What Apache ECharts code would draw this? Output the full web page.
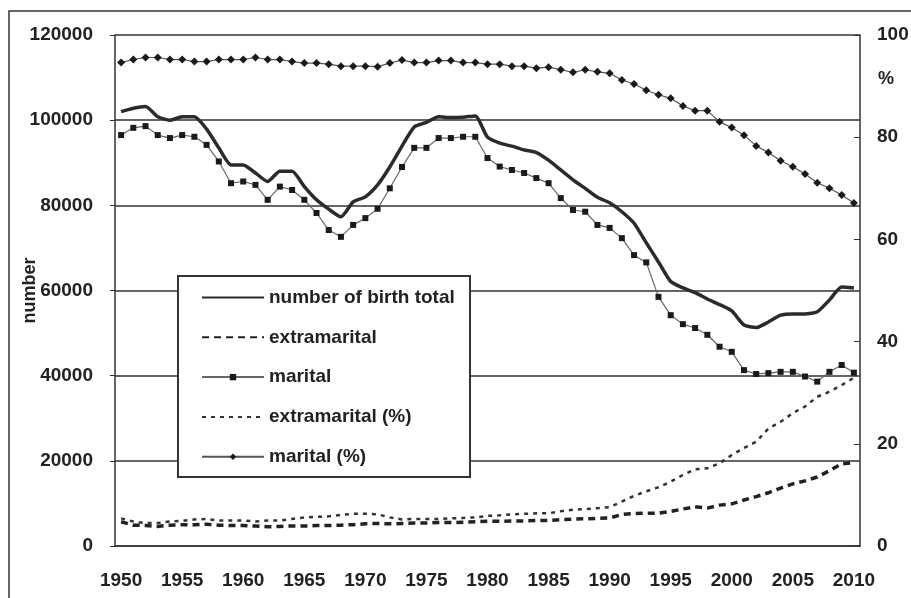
<!DOCTYPE html>
<html>
<head>
<meta charset="utf-8">
<script src="https://cdn.jsdelivr.net/npm/echarts@6/dist/echarts.min.js"></script>
<style>
html,body{margin:0;padding:0;background:#fff;}
#main{width:911px;height:598px;}
</style>
</head>
<body>
<div id="main"></div>
<script>
// years 1950..2010
var years = [];
for (var y = 1950; y <= 2010; y++) years.push(String(y));

var totalBirths = [102000,102800,103200,100800,100000,100800,100800,97900,93500,89500,
    89500,87600,85600,88000,88000,84400,81300,79100,77300,80800,
    82000,84800,89000,93900,98400,99500,100800,100600,100700,101000,
    96000,94600,93900,93000,92400,90600,88300,86000,84000,81900,
    80600,78500,75800,71200,66700,62100,60600,59500,58000,56700,
    55200,51900,51300,52600,54200,54500,54500,55000,57800,60800,
    60600];

var extramarital = [5700,4900,4800,4600,4900,5000,5000,5100,4900,4800,
    4800,4700,4500,4600,4700,4700,4800,4800,4900,5000,
    5200,5300,5200,5300,5400,5400,5500,5500,5600,5700,
    5800,5800,5900,5900,6000,6000,6200,6300,6400,6500,
    6600,7400,7600,7700,7700,8100,8700,9200,8900,9600,
    9900,10800,11600,12500,13600,14600,15300,16200,17700,19300,
    19600];

var marital = [96500,98200,98600,96500,95800,96500,96100,94200,90300,85200,
    85600,84800,81300,84400,83600,81300,78200,74200,72600,75400,
    77000,79200,84000,89000,93500,93500,95800,95800,96100,96100,
    91100,89100,88300,87600,86400,85200,81700,78900,78500,75400,
    74700,72300,68300,66600,58500,54200,52100,51200,49600,46800,
    45600,41300,40400,40600,40900,40900,39800,38600,40900,42500,
    40700];

var extramaritalPct = [5.4,4.8,4.5,4.5,4.8,4.9,5.2,5.3,5.0,5.0,
    5.0,4.8,5.0,5.0,5.3,5.6,5.7,5.8,6.1,6.3,
    6.3,6.2,5.6,5.2,5.3,5.3,5.3,5.4,5.5,5.6,
    5.9,6.0,6.2,6.3,6.4,6.4,6.8,7.1,7.2,7.4,
    7.6,8.7,9.8,10.7,11.5,12.6,13.9,15.0,15.2,16.2,
    17.8,19.2,20.4,23.0,24.3,26.0,27.3,29.2,30.2,31.5,
    32.9];

var maritalPct = [94.6,95.2,95.6,95.6,95.2,95.2,94.8,94.8,95.2,95.2,
    95.2,95.6,95.2,95.2,94.8,94.5,94.5,94.3,93.9,93.9,
    93.9,93.8,94.5,95.1,94.6,94.6,95.0,95.0,94.6,94.6,
    94.3,94.3,93.9,93.9,93.5,93.7,93.2,92.7,93.2,92.8,
    92.5,91.2,90.4,89.2,88.3,87.6,86.1,85.2,85.2,83.0,
    81.9,80.4,78.3,77.0,75.4,74.2,72.8,71.1,70.0,68.7,
    67.1];

var leftTicks = [0, 20000, 40000, 60000, 80000, 100000, 120000];
var rightTicks = [0, 20, 40, 60, 80, 100];

var ink = '#222';
var labelFont = {color: ink, fontFamily: 'Liberation Sans', fontWeight: 'bold', fontSize: 19};
var plain = function (v) { return String(v); };
var noMark = {opacity: 0};

var myChart = echarts.init(document.getElementById('main'));
var option = {
    animation: false,
    backgroundColor: '#fff',
    grid: {left: 115, right: 51, top: 35, bottom: 52, outerBoundsMode: 'none', containLabel: false},
    graphic: [
        {type: 'rect', shape: {x: 9, y: 11, width: 1000, height: 700},
            style: {fill: 'none', stroke: '#333', lineWidth: 1.5}, z: 0},
        // legend frame, white so the grid lines stop at its edge
        {type: 'rect', shape: {x: 178, y: 276, width: 292, height: 201},
            style: {fill: '#fff', stroke: '#333', lineWidth: 2}, z: 50},
        {type: 'text', left: 878, top: 70,
            style: {text: '%', fill: ink, font: 'bold 18px "Liberation Sans"'}, z: 50}
    ],
    legend: {
        orient: 'vertical',
        left: 196,
        top: 283,
        z: 60,
        itemWidth: 62,
        itemHeight: 8,
        itemGap: 20.8,
        textStyle: {color: ink, fontFamily: 'Liberation Sans', fontWeight: 'bold', fontSize: 19, lineHeight: 18},
        data: [
            {name: 'number of birth total', itemStyle: noMark},
            {name: 'extramarital', itemStyle: noMark},
            'marital',
            {name: 'extramarital (%)', itemStyle: noMark},
            'marital (%)'
        ]
    },
    xAxis: {
        type: 'category',
        data: years,
        boundaryGap: true,
        axisLine: {lineStyle: {color: '#333', width: 1.5}},
        axisTick: {interval: 4, length: 6, lineStyle: {color: '#333'}},
        axisLabel: Object.assign({interval: 4, margin: 25}, labelFont),
        splitLine: {show: false}
    },
    yAxis: [
        {
            type: 'value',
            min: leftTicks[0],
            max: leftTicks[leftTicks.length - 1],
            interval: 20000,
            name: 'number',
            nameLocation: 'middle',
            nameGap: 76,
            nameMoveOverlap: false,
            nameTextStyle: {color: ink, fontFamily: 'Liberation Sans', fontWeight: 'bold', fontSize: 18},
            axisLine: {show: true, lineStyle: {color: '#333', width: 1.5}},
            axisTick: {show: true, length: 5, lineStyle: {color: '#333'}},
            axisLabel: Object.assign({margin: 22, formatter: plain}, labelFont),
            splitLine: {show: true, lineStyle: {color: '#333', width: 1.5}}
        },
        {
            type: 'value',
            min: rightTicks[0],
            max: rightTicks[rightTicks.length - 1],
            interval: 20,
            position: 'right',
            axisLine: {show: true, lineStyle: {color: '#333', width: 1.5}},
            axisTick: {show: true, inside: true, length: 6, lineStyle: {color: '#333'}},
            axisLabel: Object.assign({margin: 17, formatter: plain}, labelFont),
            splitLine: {show: false}
        }
    ],
    series: [
        {
            name: 'number of birth total', type: 'line', yAxisIndex: 0,
            data: totalBirths, symbol: 'none', smooth: 0.2,
            lineStyle: {color: '#2b2b2b', width: 3.5}, itemStyle: {color: '#2b2b2b'}
        },
        {
            name: 'extramarital', type: 'line', yAxisIndex: 0,
            data: extramarital, symbol: 'none',
            lineStyle: {color: '#222', width: 3.5, type: [7, 5]}, itemStyle: {color: '#222'}
        },
        {
            name: 'marital', type: 'line', yAxisIndex: 0,
            data: marital, symbol: 'rect', symbolSize: 6,
            lineStyle: {color: '#666', width: 1.2}, itemStyle: {color: '#1a1a1a'}
        },
        {
            name: 'extramarital (%)', type: 'line', yAxisIndex: 1,
            data: extramaritalPct, symbol: 'none',
            lineStyle: {color: '#333', width: 2.5, type: [4, 5]}, itemStyle: {color: '#333'}
        },
        {
            name: 'marital (%)', type: 'line', yAxisIndex: 1,
            data: maritalPct, symbol: 'diamond', symbolSize: 8,
            lineStyle: {color: '#555', width: 1.2}, itemStyle: {color: '#1a1a1a'}
        }
    ]
};
myChart.setOption(option);
</script>
</body>
</html>
